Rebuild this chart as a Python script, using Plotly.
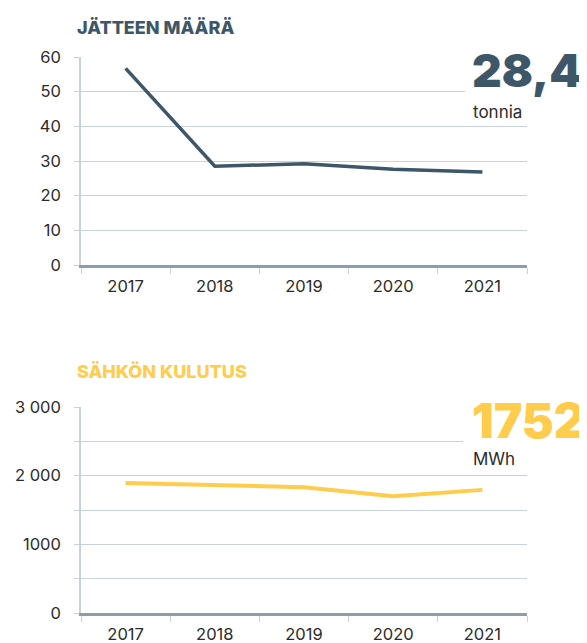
import plotly.graph_objects as go

years = ["2017", "2018", "2019", "2020", "2021"]
waste_tonnes = [56.7, 28.5, 29.2, 27.6, 26.8]
electricity_mwh = [1895, 1860, 1832, 1700, 1793]

waste_ticks = [0, 10, 20, 30, 40, 50, 60]
elec_tickvals = [0, 1000, 2000, 3000]
elec_ticktext = ["0", "1000", "2 000", "3 000"]

waste_title = "JÄTTEEN MÄÄRÄ"
elec_title = "SÄHKÖN KULUTUS"
waste_big, waste_unit = "28,4", "tonnia"
elec_big, elec_unit = "1752", "MWh"

DARK = "#3d5668"
YELLOW = "#ffcc4d"
GRID = "#c9d2da"
AXIS = "#8f9cab"
TXT = "#2b2b2b"
FONT = "Inter"

OFF = 8  # page body margin
W, H = 587 - OFF, 643 - OFF
def px(x): return (x - OFF) / W
def py(y): return 1 - (y - OFF) / H

fig = go.Figure()
fig.add_trace(go.Scatter(x=years, y=waste_tonnes, mode="lines",
                         line=dict(color=DARK, width=3.5), xaxis="x", yaxis="y",
                         hoverinfo="skip", showlegend=False))
fig.add_trace(go.Scatter(x=years, y=electricity_mwh, mode="lines",
                         line=dict(color=YELLOW, width=4), xaxis="x2", yaxis="y2",
                         hoverinfo="skip", showlegend=False))

xdom = [px(81), px(527)]
xcommon = dict(type="category", domain=xdom, range=[-0.5, 4.5], tickson="boundaries",
               ticks="outside", ticklen=6, tickcolor=GRID, tickwidth=1.2,
               showline=True, linecolor=AXIS, linewidth=2.5, showgrid=False,
               tickfont=dict(family=FONT, size=16.5, color=TXT), ticklabelstandoff=4,
               zeroline=False, fixedrange=True, automargin=False)
ycommon = dict(showline=True, linecolor=GRID, linewidth=1.5, gridcolor=GRID, gridwidth=1.3,
               ticks="outside", ticklen=5, tickcolor=GRID, zeroline=False,
               tickfont=dict(family=FONT, size=16.5, color=TXT), ticklabelstandoff=10,
               fixedrange=True, automargin=False)

fig.update_layout(
    width=W, height=H, margin=dict(l=0, r=0, t=0, b=0, autoexpand=False),
    paper_bgcolor="white", plot_bgcolor="white",
    xaxis=dict(**xcommon, anchor="y"),
    yaxis=dict(**ycommon, domain=[py(265), py(57)], range=[0, 60],
               tickvals=waste_ticks, anchor="x"),
    xaxis2=dict(**xcommon, anchor="y2"),
    yaxis2=dict(**ycommon, domain=[py(613), py(407)], range=[0, 3000],
                tickvals=elec_tickvals, ticktext=elec_ticktext, anchor="x2",
                minor=dict(dtick=500, showgrid=True, gridcolor=GRID, gridwidth=1.3,
                           ticks="outside", ticklen=5, tickcolor=GRID)),
    font=dict(family=FONT),
)

# white boxes hiding gridlines behind the headline numbers
fig.add_shape(type="rect", xref="paper", yref="paper", x0=px(465), x1=1.0,
              y0=py(100), y1=py(40), fillcolor="white", line_width=0, layer="above")
fig.add_shape(type="rect", xref="paper", yref="paper", x0=px(463), x1=1.0,
              y0=py(446), y1=py(392), fillcolor="white", line_width=0, layer="above")

def ann(text, x, y, size, color, weight="normal"):
    fig.add_annotation(text=text, xref="paper", yref="paper", x=px(x), y=py(y),
                       xanchor="left", yanchor="middle", showarrow=False,
                       font=dict(family=FONT, size=size, color=color, weight=weight))

ann(waste_title, 75, 27, 18, DARK, 800)
ann(elec_title, 75, 371, 18, YELLOW, 800)
ann(waste_big, 470, 70, 46, DARK, 900)
ann(waste_unit, 471, 112, 17, TXT)
ann(elec_big, 470, 420, 48, YELLOW, 900)
ann(elec_unit, 471, 459, 17, TXT)

fig.write_html("out.html")
